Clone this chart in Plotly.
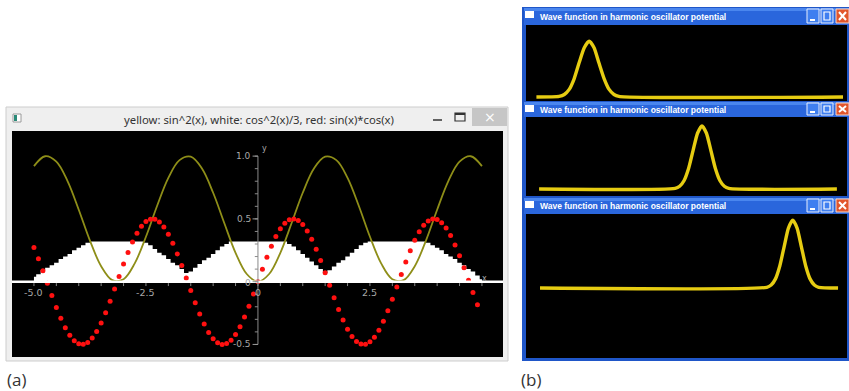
import plotly.graph_objects as go

W, H = 849, 391

# ---------------- data: panel (a) ----------------
grid_x = [round(-5.0 + 0.1 * i, 1) for i in range(101)]

red_x = grid_x[:100]
red_vals = [
    0.272, 0.183, 0.087, -0.012, -0.111, -0.206, -0.292, -0.367, -0.427, -0.470,
    -0.495, -0.499, -0.484, -0.449, -0.397, -0.329, -0.247, -0.156, -0.058, 0.042,
    0.140, 0.232, 0.316, 0.386, 0.442, 0.479, 0.498, 0.497, 0.476, 0.436,
    0.378, 0.306, 0.221, 0.128, 0.029, -0.071, -0.168, -0.258, -0.338, -0.404,
    -0.455, -0.487, -0.500, -0.493, -0.466, -0.421, -0.359, -0.282, -0.195, -0.099,
    0.000, 0.099, 0.195, 0.282, 0.359, 0.421, 0.466, 0.493, 0.500, 0.487,
    0.455, 0.404, 0.338, 0.258, 0.168, 0.071, -0.029, -0.128, -0.221, -0.306,
    -0.378, -0.436, -0.476, -0.497, -0.498, -0.479, -0.442, -0.386, -0.316, -0.232,
    -0.140, -0.042, 0.058, 0.156, 0.247, 0.329, 0.397, 0.449, 0.484, 0.499,
    0.495, 0.470, 0.427, 0.367, 0.292, 0.206, 0.111, 0.012, -0.087, -0.183,
]

white_x = grid_x
white_vals = [
    0.04, 0.06, 0.09, 0.11, 0.13, 0.15, 0.18, 0.20, 0.22, 0.25,
    0.27, 0.29, 0.31, 0.32, 0.32, 0.32, 0.32, 0.32, 0.32, 0.32,
    0.32, 0.32, 0.32, 0.32, 0.32, 0.31, 0.29, 0.26, 0.23, 0.21,
    0.18, 0.15, 0.13, 0.10, 0.07, 0.08, 0.11, 0.14, 0.17, 0.19,
    0.22, 0.25, 0.28, 0.30, 0.32, 0.32, 0.32, 0.32, 0.32, 0.32,
    0.32, 0.32, 0.32, 0.32, 0.32, 0.32, 0.32, 0.30, 0.28, 0.25,
    0.22, 0.19, 0.16, 0.13, 0.10, 0.07, 0.09, 0.12, 0.15, 0.17,
    0.20, 0.23, 0.26, 0.29, 0.31, 0.32, 0.32, 0.32, 0.32, 0.32,
    0.32, 0.32, 0.32, 0.32, 0.32, 0.32, 0.32, 0.32, 0.31, 0.29,
    0.27, 0.25, 0.22, 0.20, 0.18, 0.15, 0.13, 0.10, 0.08, 0.05,
    0.02,
]

yellow_x = [round(-5.0 + 0.25 * i, 2) for i in range(41)]
yellow_vals = [
    0.920, 0.999, 0.956, 0.801, 0.573, 0.327, 0.123, 0.012, 0.020, 0.146,
    0.358, 0.605, 0.827, 0.968, 0.995, 0.901, 0.708, 0.465, 0.230, 0.061,
    0.000,
    0.061, 0.230, 0.465, 0.708, 0.901, 0.995, 0.968, 0.827, 0.605, 0.358,
    0.146, 0.020, 0.012, 0.123, 0.327, 0.573, 0.801, 0.956, 0.999, 0.920,
]

x_major_ticks = [-5.0, -2.5, 0.0, 2.5]
x_major_labels = ["-5.0", "-2.5", "0", "2.5"]
x_minor_ticks = [round(-5.0 + 0.5 * i, 1) for i in range(21)]
y_major_ticks = [-0.5, 0.0, 0.5, 1.0]
y_major_labels = ["-0.5", "0", "0.5", "1.0"]
y_minor_ticks = [round(-0.5 + 0.1 * i, 1) for i in range(16)]

title_a = "yellow: sin^2(x), white: cos^2(x)/3, red: sin(x)*cos(x)"

# ---------------- data: panel (b) ----------------
wave_title = "Wave function in harmonic oscillator potential"
wave1_x = [-5.0, -4.26, -4.09, -3.93, -3.77, -3.61, -3.44, -3.28, -3.12, -2.96, -2.79, -2.63, -2.47, -2.31, 5.0]
wave1_y = [0.0, 0.011, 0.044, 0.135, 0.325, 0.607, 0.883, 1.0, 0.883, 0.607, 0.325, 0.135, 0.044, 0.011, 0.0]
wave2_x = [-5.0, -0.43, -0.28, -0.13, 0.02, 0.17, 0.32, 0.47, 0.62, 0.77, 0.92, 1.07, 1.22, 1.37, 5.0]
wave2_y = [0.0, 0.011, 0.044, 0.135, 0.325, 0.607, 0.883, 1.0, 0.883, 0.607, 0.325, 0.135, 0.044, 0.011, 0.0]
wave3_x = [-5.0, 2.61, 2.755, 2.90, 3.045, 3.19, 3.335, 3.48, 3.625, 3.77, 3.915, 4.06, 4.205, 4.35, 5.0]
wave3_y = [0.0, 0.011, 0.044, 0.135, 0.325, 0.607, 0.883, 1.0, 0.883, 0.607, 0.325, 0.135, 0.044, 0.011, 0.0]


def px(x):
    return x / W


def py(y):
    return 1 - y / H


def prect(x0, y0, x1, y1, fill, line=None, lw=0, layer="below"):
    return dict(type="rect", xref="paper", yref="paper",
                x0=px(x0), x1=px(x1), y0=py(y1), y1=py(y0),
                fillcolor=fill, line=dict(color=line or fill, width=lw), layer=layer)


def ptext(x, y, text, size, color, family="Noto Sans", xanchor="center", bold=False):
    t = f"<b>{text}</b>" if bold else text
    return dict(x=px(x), y=py(y), xref="paper", yref="paper", text=t, showarrow=False,
                xanchor=xanchor, yanchor="middle",
                font=dict(size=size, color=color, family=family))


fig = go.Figure()

# panel (a) traces
fig.add_trace(go.Scatter(x=white_x, y=white_vals, mode="lines", line=dict(width=0, shape="hvh"),
                         fill="tozeroy", fillcolor="white", xaxis="x", yaxis="y", hoverinfo="skip"))
fig.add_trace(go.Scatter(x=yellow_x, y=yellow_vals, mode="lines",
                         line=dict(color="#8e8e18", width=1.8, shape="spline", smoothing=1.0),
                         xaxis="x", yaxis="y"))
fig.add_trace(go.Scatter(x=red_x, y=red_vals, mode="markers",
                         marker=dict(color="#ff1010", size=5, line=dict(width=0)),
                         xaxis="x", yaxis="y"))

# panel (b) traces
for i, (wx, wy) in enumerate([(wave1_x, wave1_y), (wave2_x, wave2_y), (wave3_x, wave3_y)], start=2):
    fig.add_trace(go.Scatter(x=wx, y=wy, mode="lines",
                             line=dict(color="#e6cc12", width=3.4, shape="spline", smoothing=0.6),
                             xaxis=f"x{i}", yaxis=f"y{i}"))

shapes = []
annotations = []

# ---- window (a) frame ----
shapes.append(prect(6, 107, 508, 361, "#efefef", "#cdcdcd", 1))
shapes.append(prect(12, 131, 503, 357, "#000000"))
shapes.append(prect(472, 108, 507, 126, "#c6c6c6"))
shapes.append(prect(455, 113, 465, 121, "rgba(0,0,0,0)", "#333333", 1.2))
shapes.append(dict(type="line", xref="paper", yref="paper", x0=px(455), x1=px(465), y0=py(114), y1=py(114),
                   line=dict(color="#333333", width=2), layer="below"))
shapes.append(dict(type="line", xref="paper", yref="paper", x0=px(433), x1=px(442), y0=py(120), y1=py(120),
                   line=dict(color="#333333", width=1.5), layer="below"))
shapes.append(prect(13, 114, 21, 122, "#ffffff", "#9a9a9a", 1))
shapes.append(prect(14, 115, 17, 121, "#2a8a78"))
annotations.append(ptext(259, 119, title_a, 11.3, "#333333", "Noto Sans"))
annotations.append(ptext(489.5, 117, "×", 14, "#ffffff", "DejaVu Sans"))

# ---- windows (b) frames ----
wins = [(7, 25, 101, 104), (101, 117, 196, 199), (197, 214, 358, 361)]
for ty0, ty1, by1, bot in wins:
    shapes.append(prect(522, ty0, 852, bot, "#1f56c8"))
    shapes.append(prect(524, ty0 + 1, 852, ty1, "#2a66dc"))
    shapes.append(prect(524, ty0 + 1, 852, ty0 + 4, "#4a86ee"))
    shapes.append(prect(526, ty1, 847, by1, "#000000"))
    shapes.append(prect(525, ty0 + 4, 534, ty0 + 11, "#ffffff"))
    shapes.append(prect(807, ty0 + 2, 819, ty1 - 2, "#3f7ff0", "#e8eefc", 1))
    shapes.append(prect(821, ty0 + 2, 833, ty1 - 2, "#3f7ff0", "#e8eefc", 1))
    shapes.append(prect(836, ty0 + 2, 849, ty1 - 2, "#e2562c", "#f3d6cc", 1))
    shapes.append(dict(type="line", xref="paper", yref="paper", x0=px(810), x1=px(815),
                       y0=py(ty1 - 5), y1=py(ty1 - 5), line=dict(color="white", width=2), layer="below"))
    shapes.append(prect(824, ty0 + 5, 830, ty1 - 5, "rgba(0,0,0,0)", "white", 1.2))
    cy0, cy1 = ty0 + 5, ty1 - 5
    shapes.append(dict(type="line", xref="paper", yref="paper", x0=px(839), x1=px(846),
                       y0=py(cy0), y1=py(cy1), line=dict(color="white", width=2), layer="below"))
    shapes.append(dict(type="line", xref="paper", yref="paper", x0=px(839), x1=px(846),
                       y0=py(cy1), y1=py(cy0), line=dict(color="white", width=2), layer="below"))
    annotations.append(ptext(538, (ty0 + ty1) / 2 + 0.5, wave_title, 8.5, "#ffffff",
                             "Liberation Sans", xanchor="left", bold=True))

# ---- axes of (a), drawn from tick lists ----
x_lo, x_hi = -5.49, 5.47
shapes.append(dict(type="line", xref="x", yref="y", x0=x_lo, x1=x_hi, y0=0, y1=0,
                   line=dict(color="white", width=2.5), layer="above"))
for t in x_minor_ticks:
    shapes.append(dict(type="line", xref="x", yref="y", x0=t, x1=t, y0=-0.012, y1=-0.035,
                       line=dict(color="#8a8a8a", width=1), layer="above"))
for t, lab in zip(x_major_ticks, x_major_labels):
    annotations.append(dict(x=t, y=0, xref="x", yref="y", text=lab, showarrow=False,
                            yshift=-11, font=dict(size=9.5, color="#a8a8a8", family="DejaVu Sans")))
annotations.append(dict(x=5.05, y=0, xref="x", yref="y", text="x", showarrow=False, yshift=3,
                        font=dict(size=8, color="#a8a8a8", family="DejaVu Sans")))
shapes.append(dict(type="line", xref="x", yref="y", x0=0, x1=0, y0=-0.5, y1=1.0,
                   line=dict(color="#8a8a8a", width=1), layer="above"))
for t in y_minor_ticks:
    shapes.append(dict(type="line", xref="x", yref="y", x0=-0.07, x1=0, y0=t, y1=t,
                       line=dict(color="#8a8a8a", width=1), layer="above"))
for t, lab in zip(y_major_ticks, y_major_labels):
    shapes.append(dict(type="line", xref="x", yref="y", x0=-0.12, x1=0, y0=t, y1=t,
                       line=dict(color="#9a9a9a", width=1), layer="above"))
    annotations.append(dict(x=0, y=t, xref="x", yref="y", text=lab, showarrow=False,
                            xanchor="right", xshift=-5, yshift=-1 if lab == "0" else 0,
                            font=dict(size=9, color="#a8a8a8", family="DejaVu Sans")))
annotations.append(dict(x=0.15, y=1.06, xref="x", yref="y", text="y", showarrow=False,
                        font=dict(size=8, color="#a8a8a8", family="DejaVu Sans")))

# panel labels
annotations.append(ptext(5, 379, "(a)", 17, "#333333", "Open Sans", xanchor="left"))
annotations.append(ptext(519, 379, "(b)", 17, "#333333", "Open Sans", xanchor="left"))

hidden = dict(visible=False, fixedrange=True)
fig.update_layout(
    width=W, height=H, margin=dict(l=0, r=0, t=0, b=0),
    paper_bgcolor="white", plot_bgcolor="black", showlegend=False,
    xaxis=dict(domain=[px(12), px(503)], range=[x_lo, x_hi], anchor="y", **hidden),
    yaxis=dict(domain=[py(357), py(131)], range=[-0.6, 1.2], anchor="x", **hidden),
    xaxis2=dict(domain=[px(526), px(847)], range=[-5.34, 5.13], anchor="y2", **hidden),
    yaxis2=dict(domain=[py(101), py(25)], range=[-0.073, 1.29], anchor="x2", **hidden),
    xaxis3=dict(domain=[px(526), px(847)], range=[-5.44, 5.34], anchor="y3", **hidden),
    yaxis3=dict(domain=[py(196), py(117)], range=[-0.111, 1.14], anchor="x3", **hidden),
    xaxis4=dict(domain=[px(526), px(847)], range=[-5.47, 5.30], anchor="y4", **hidden),
    yaxis4=dict(domain=[py(358), py(214)], range=[-1.03, 1.09], anchor="x4", **hidden),
    shapes=shapes, annotations=annotations,
)

fig.write_html(
    "out.html",
    config={"displayModeBar": False},
    post_script="document.body.style.margin='0';document.body.style.padding='0';document.body.style.overflow='hidden';",
)
